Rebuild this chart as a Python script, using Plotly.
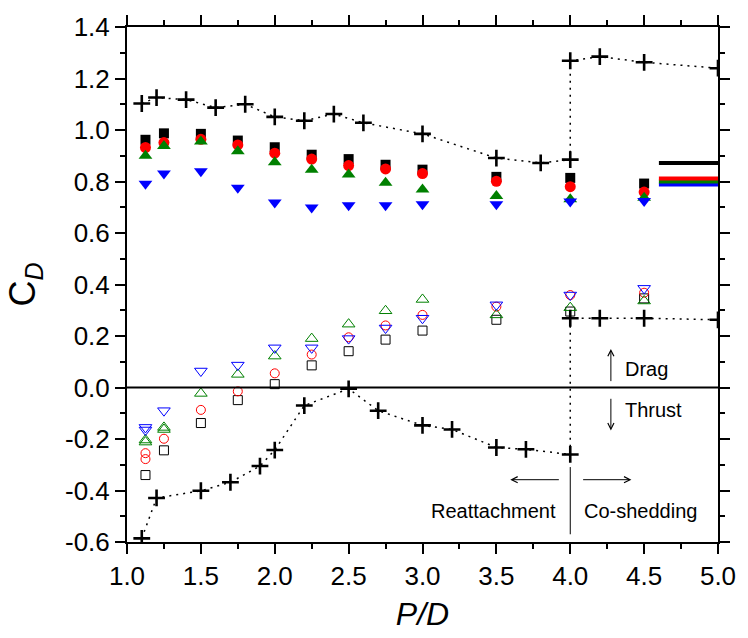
import plotly.graph_objects as go

# Pitch ratio positions of the force measurements
pd_markers = [1.125, 1.25, 1.5, 1.75, 2.0, 2.25, 2.5, 2.75, 3.0, 3.5, 4.0, 4.5]

# Mean drag of the upstream body (filled symbols), four cases
cd_black = [0.962, 0.987, 0.985, 0.959, 0.933, 0.904, 0.887, 0.865, 0.846, 0.818, 0.814, 0.792]
cd_red = [0.932, 0.951, 0.964, 0.942, 0.910, 0.887, 0.862, 0.849, 0.831, 0.801, 0.780, 0.759]
cd_green = [0.900, 0.938, 0.955, 0.917, 0.875, 0.846, 0.827, 0.795, 0.769, 0.744, 0.731, 0.737]
cd_blue = [0.791, 0.831, 0.840, 0.776, 0.718, 0.699, 0.708, 0.708, 0.712, 0.712, 0.722, 0.724]

# Mean drag of the downstream body (open symbols)
pd_open_black = [1.125, 1.25, 1.5, 1.75, 2.0, 2.25, 2.5, 2.75, 3.0, 3.5, 4.0, 4.5]
cd_open_black = [-0.340, -0.244, -0.138, -0.049, 0.013, 0.086, 0.141, 0.186, 0.221, 0.263, 0.295, 0.346]
pd_open_red = [1.125, 1.125, 1.25, 1.5, 1.75, 2.0, 2.25, 2.5, 2.75, 3.0, 3.5, 4.0, 4.5]
cd_open_red = [-0.255, -0.278, -0.199, -0.087, -0.015, 0.055, 0.128, 0.195, 0.241, 0.282, 0.314, 0.359, 0.368]
pd_open_green = [1.125, 1.125, 1.25, 1.25, 1.5, 1.75, 2.0, 2.25, 2.5, 2.75, 3.0, 3.5, 4.0, 4.5]
cd_open_green = [-0.204, -0.212, -0.155, -0.163, -0.023, 0.051, 0.122, 0.190, 0.246, 0.298, 0.342, 0.282, 0.310, 0.336]
pd_open_blue = [1.125, 1.125, 1.25, 1.5, 1.75, 2.0, 2.25, 2.5, 2.75, 3.0, 3.5, 4.0, 4.5]
cd_open_blue = [-0.155, -0.165, -0.090, 0.064, 0.087, 0.154, 0.154, 0.190, 0.231, 0.269, 0.321, 0.359, 0.385]

# Reference data (crosses): upstream and downstream branches
pd_ref_up = [1.1, 1.2, 1.4, 1.6, 1.8, 2.0, 2.2, 2.4, 2.6, 3.0, 3.5, 3.8, 4.0, 4.0, 4.2, 4.5, 5.0]
cd_ref_up = [1.103, 1.126, 1.118, 1.087, 1.100, 1.051, 1.036, 1.062, 1.028, 0.985, 0.891, 0.872, 0.885,
             1.269, 1.285, 1.263, 1.240]
pd_ref_down = [1.1, 1.2, 1.5, 1.7, 1.9, 2.0, 2.2, 2.5, 2.7, 3.0, 3.2, 3.5, 3.7, 4.0, 4.0, 4.2, 4.5, 5.0]
cd_ref_down = [-0.586, -0.429, -0.401, -0.368, -0.305, -0.243, -0.070, -0.005, -0.090, -0.147, -0.163,
               -0.233, -0.240, -0.260, 0.269, 0.269, 0.269, 0.263]

# Single-body drag levels drawn as short bars at the right edge
single_pd = [4.6, 5.0]
single_black = 0.872
single_red = 0.812
single_green = 0.800
single_blue = 0.788

x_tick_vals = [1.0, 1.5, 2.0, 2.5, 3.0, 3.5, 4.0, 4.5, 5.0]
x_tick_text = ["1.0", "1.5", "2.0", "2.5", "3.0", "3.5", "4.0", "4.5", "5.0"]
y_tick_vals = [-0.6, -0.4, -0.2, 0.0, 0.2, 0.4, 0.6, 0.8, 1.0, 1.2, 1.4]
y_tick_text = ["-0.6", "-0.4", "-0.2", "0.0", "0.2", "0.4", "0.6", "0.8", "1.0", "1.2", "1.4"]

FONT = "Liberation Sans, Arial, sans-serif"
BLACK, RED, GREEN, BLUE = "#000000", "#ff0000", "#008000", "#0000ff"

fig = go.Figure()

# dotted reference curves
for xs, ys in [(pd_ref_up, cd_ref_up), (pd_ref_down, cd_ref_down)]:
    fig.add_trace(go.Scatter(x=xs, y=ys, mode="lines",
                             line=dict(color=BLACK, width=1.5, dash="2px,5px"),
                             hoverinfo="skip"))

# single-body levels
for val, col in [(single_blue, BLUE), (single_green, GREEN), (single_red, RED), (single_black, BLACK)]:
    fig.add_trace(go.Scatter(x=single_pd, y=[val, val], mode="lines",
                             line=dict(color=col, width=4)))

# open symbols (downstream body)
open_sets = [
    (pd_open_black, cd_open_black, "square-open", BLACK, 9),
    (pd_open_red, cd_open_red, "circle-open", RED, 9),
    (pd_open_green, cd_open_green, "triangle-up-open", GREEN, 11),
    (pd_open_blue, cd_open_blue, "triangle-down-open", BLUE, 11),
]
for xs, ys, sym, col, sz in open_sets:
    fig.add_trace(go.Scatter(x=xs, y=ys, mode="markers",
                             marker=dict(symbol=sym, size=sz, color=col, line=dict(color=col, width=1))))

# filled symbols (upstream body)
filled_sets = [
    (cd_black, "square", BLACK, 10),
    (cd_red, "circle", RED, 11),
    (cd_green, "triangle-up", GREEN, 12),
    (cd_blue, "triangle-down", BLUE, 12),
]
for ys, sym, col, sz in filled_sets:
    fig.add_trace(go.Scatter(x=pd_markers, y=ys, mode="markers",
                             marker=dict(symbol=sym, size=sz, color=col, line=dict(width=0))))

# reference crosses
for xs, ys in [(pd_ref_up, cd_ref_up), (pd_ref_down, cd_ref_down)]:
    fig.add_trace(go.Scatter(x=xs, y=ys, mode="markers",
                             marker=dict(symbol="cross-thin-open", size=12, color=BLACK,
                                         line=dict(color=BLACK, width=2.6))))

# zero line and regime divider
fig.add_shape(type="line", x0=1.0, x1=5.0, y0=0, y1=0, line=dict(color=BLACK, width=2))
fig.add_shape(type="line", x0=4.0, x1=4.0, y0=-0.309, y1=-0.570, line=dict(color=BLACK, width=1))

text_font = dict(family=FONT, size=20, color=BLACK)
arrows = [
    (4.275, 0.150, 4.275, 0.019),    # drag, pointing up
    (4.275, -0.167, 4.275, -0.038),  # thrust, pointing down
    (3.594, -0.358, 3.933, -0.358),  # reattachment, pointing left
    (4.414, -0.358, 4.077, -0.358),  # co-shedding, pointing right
]
for hx, hy, tx, ty in arrows:
    fig.add_annotation(x=hx, y=hy, ax=tx, ay=ty, xref="x", yref="y", axref="x", ayref="y",
                       text="", showarrow=True, arrowhead=5, arrowsize=1.2, arrowwidth=1,
                       arrowcolor=BLACK)

labels = [
    ("Drag", 4.36, 0.073, "left"),
    ("Thrust", 4.36, -0.087, "left"),
    ("Reattachment", 3.92, -0.478, "right"),
    ("Co-shedding", 4.077, -0.478, "left"),
]
for txt, x, y, anchor in labels:
    fig.add_annotation(x=x, y=y, xref="x", yref="y", text=txt, showarrow=False,
                       xanchor=anchor, yanchor="middle", font=text_font)

axis_common = dict(
    showline=True, linecolor=BLACK, linewidth=2, mirror="ticks",
    ticks="outside", ticklen=10, tickwidth=2, tickcolor=BLACK,
    showgrid=False, zeroline=False,
    tickfont=dict(family=FONT, size=26, color=BLACK),
)

fig.update_xaxes(range=[1.0, 5.0], tickvals=x_tick_vals, ticktext=x_tick_text,
                 minor=dict(ticks="outside", ticklen=5, tickwidth=2, tickcolor=BLACK, dtick=0.25, tick0=1.0),
                 title=dict(text="<i>P/D</i>", font=dict(family=FONT, size=32, color=BLACK), standoff=12),
                 **axis_common)
fig.update_yaxes(range=[-0.6, 1.4], tickvals=y_tick_vals, ticktext=y_tick_text,
                 minor=dict(ticks="outside", ticklen=5, tickwidth=2, tickcolor=BLACK, dtick=0.1, tick0=0.0),
                 title=dict(text="C<sub><i>D</i></sub>", font=dict(family=FONT, size=36, color=BLACK), standoff=18),
                 **axis_common)

fig.update_layout(
    width=748, height=638,
    margin=dict(l=127, r=20, t=22, b=94),
    paper_bgcolor="white", plot_bgcolor="white",
    showlegend=False,
    font=dict(family=FONT, color=BLACK),
)

fig.write_html("out.html")
